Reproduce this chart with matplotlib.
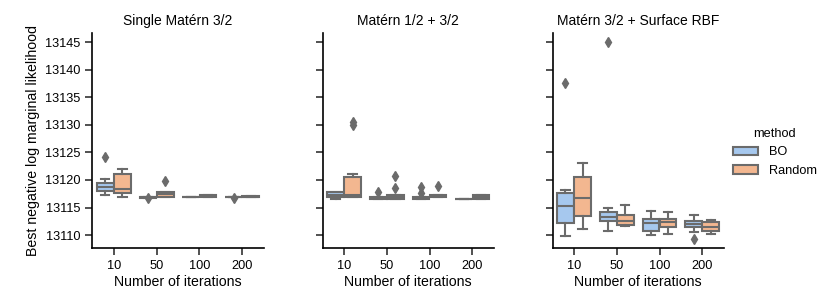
import matplotlib
matplotlib.use("Agg")
import matplotlib.pyplot as plt
from matplotlib.patches import Patch

plt.rcParams['font.family'] = ['Liberation Sans', 'DejaVu Sans']

iterations = ["10", "50", "100", "200"]
panels = ["Single Matérn 3/2", "Matérn 1/2 + 3/2", "Matérn 3/2 + Surface RBF"]
methods = ["BO", "Random"]

# per panel, per method: one value per iteration count
whislo = {
    "Single Matérn 3/2": {"BO": [13117.3, 13116.8, 13116.85, 13116.85], "Random": [13117.0, 13116.9, 13116.9, 13116.9]},
    "Matérn 1/2 + 3/2": {"BO": [13116.6, 13116.6, 13116.5, 13116.5], "Random": [13116.9, 13116.6, 13116.9, 13116.6]},
    "Matérn 3/2 + Surface RBF": {"BO": [13109.9, 13110.8, 13110.0, 13110.5], "Random": [13111.1, 13111.7, 13110.2, 13110.2]},
}
q1 = {
    "Single Matérn 3/2": {"BO": [13118.0, 13116.8, 13116.85, 13116.85], "Random": [13117.6, 13116.9, 13116.9, 13116.9]},
    "Matérn 1/2 + 3/2": {"BO": [13116.9, 13116.6, 13116.5, 13116.5], "Random": [13116.9, 13116.6, 13116.9, 13116.6]},
    "Matérn 3/2 + Surface RBF": {"BO": [13112.1, 13112.5, 13110.8, 13111.5], "Random": [13113.5, 13111.8, 13111.4, 13110.8]},
}
med = {
    "Single Matérn 3/2": {"BO": [13118.7, 13116.9, 13116.85, 13116.85], "Random": [13118.4, 13117.4, 13117.1, 13117.0]},
    "Matérn 1/2 + 3/2": {"BO": [13117.3, 13116.7, 13116.7, 13116.6], "Random": [13117.2, 13116.9, 13117.1, 13117.0]},
    "Matérn 3/2 + Surface RBF": {"BO": [13115.3, 13113.2, 13112.2, 13112.0], "Random": [13116.7, 13112.5, 13112.3, 13111.5]},
}
q3 = {
    "Single Matérn 3/2": {"BO": [13119.4, 13117.0, 13116.85, 13116.85], "Random": [13121.1, 13117.8, 13117.3, 13117.1]},
    "Matérn 1/2 + 3/2": {"BO": [13117.8, 13116.9, 13116.9, 13116.6], "Random": [13120.6, 13117.3, 13117.3, 13117.3]},
    "Matérn 3/2 + Surface RBF": {"BO": [13117.7, 13114.2, 13112.9, 13112.5], "Random": [13120.5, 13113.6, 13112.9, 13112.3]},
}
whishi = {
    "Single Matérn 3/2": {"BO": [13120.2, 13117.0, 13116.85, 13116.85], "Random": [13122.0, 13117.8, 13117.3, 13117.1]},
    "Matérn 1/2 + 3/2": {"BO": [13117.9, 13116.9, 13116.9, 13116.6], "Random": [13121.1, 13117.3, 13117.3, 13117.3]},
    "Matérn 3/2 + Surface RBF": {"BO": [13118.2, 13115.0, 13114.4, 13113.6], "Random": [13123.0, 13115.5, 13114.1, 13112.7]},
}
fliers = {
    "Single Matérn 3/2": {"BO": [[13124.2], [13116.8], [], [13116.7]], "Random": [[], [13119.8], [], []]},
    "Matérn 1/2 + 3/2": {"BO": [[], [13117.8], [13118.8, 13117.6], []], "Random": [[13130.6, 13130.0], [13120.7, 13118.6], [13118.9], []]},
    "Matérn 3/2 + Surface RBF": {"BO": [[13137.6], [13145.0], [], [13109.3]], "Random": [[], [], [], []]},
}

colors = {"BO": "#a6c8ee", "Random": "#f3b790"}
gray = "#6b6b6b"

fig = plt.figure(figsize=(8.31, 3.05), dpi=100)
lefts = [0.1113, 0.3883, 0.665]
for i, (panel, left) in enumerate(zip(panels, lefts)):
    ax = fig.add_axes([left, 0.186, 0.2058, 0.706])
    for j, m in enumerate(methods):
        stats = []
        for k in range(len(iterations)):
            stats.append(dict(med=med[panel][m][k], q1=q1[panel][m][k], q3=q3[panel][m][k],
                              whislo=whislo[panel][m][k], whishi=whishi[panel][m][k],
                              fliers=fliers[panel][m][k]))
        pos = [k + (j - 0.5) * 0.4 for k in range(len(iterations))]
        ax.bxp(stats, positions=pos, widths=0.39, patch_artist=True, manage_ticks=False,
               boxprops=dict(facecolor=colors[m], edgecolor=gray, linewidth=1.5),
               medianprops=dict(color=gray, linewidth=1.5),
               whiskerprops=dict(color=gray, linewidth=1.5),
               capprops=dict(color=gray, linewidth=1.5),
               flierprops=dict(marker="d", markerfacecolor=gray, markeredgecolor=gray, markersize=5))
    ax.set_xlim(-0.5, 3.5)
    ax.set_ylim(13107.6, 13146.7)
    ax.set_xticks(range(len(iterations)))
    ax.set_xticklabels(iterations)
    ax.set_yticks([13110, 13115, 13120, 13125, 13130, 13135, 13140, 13145])
    ax.spines["top"].set_visible(False)
    ax.spines["right"].set_visible(False)
    ax.tick_params(labelsize=9.2, length=5, width=1.2, color="#333333")
    ax.spines["left"].set_linewidth(1.2)
    ax.spines["bottom"].set_linewidth(1.2)
    ax.set_title(panel, fontsize=10)
    ax.set_xlabel("Number of iterations", fontsize=10.2, labelpad=2)
    if i == 0:
        ax.set_ylabel("Best negative log marginal likelihood", fontsize=10.2)
    else:
        ax.tick_params(labelleft=False)

handles = [Patch(facecolor=colors[m], edgecolor=gray, linewidth=1.5, label=m) for m in methods]
fig.legend(handles=handles, title="method", loc="center left", bbox_to_anchor=(0.868, 0.5),
           frameon=False, fontsize=9.2, title_fontsize=9.2)

fig.savefig("out.png", dpi=100)
